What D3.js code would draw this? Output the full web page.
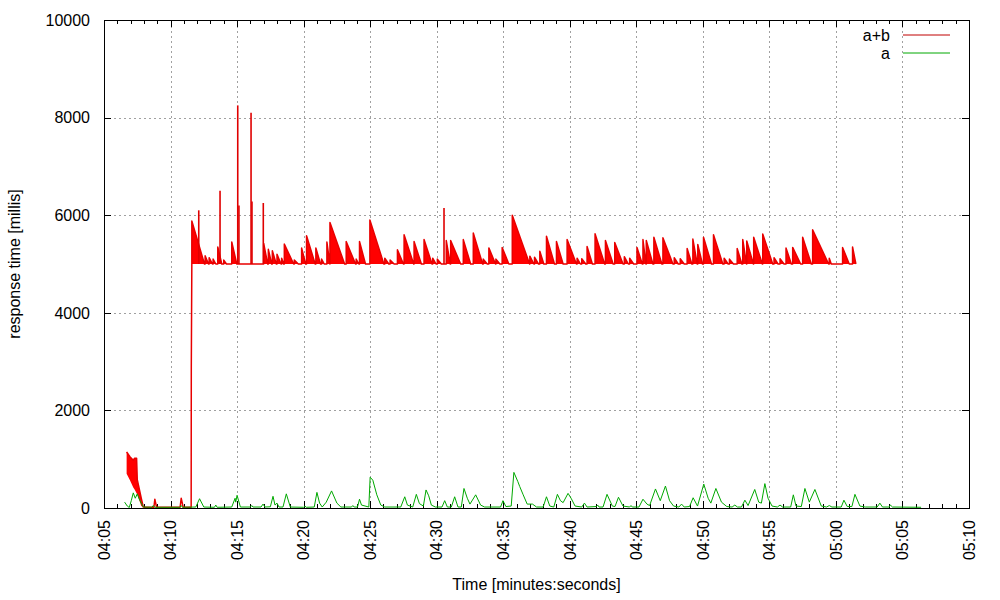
<!DOCTYPE html>
<html>
<head>
<meta charset="utf-8">
<script src="https://cdn.jsdelivr.net/npm/d3@7"></script>
<style>
  body { margin: 0; background: #fff; }
  svg { font-family: "Liberation Sans", Arial, sans-serif; }
</style>
</head>
<body>
<div id="chart"></div>
<script>
// time is in seconds (04:05 = 245)
var xTicks = [245, 250, 255, 260, 265, 270, 275, 280, 285, 290, 295, 300, 305, 310];
var xTickLabels = ["04:05", "04:10", "04:15", "04:20", "04:25", "04:30", "04:35",
                   "04:40", "04:45", "04:50", "04:55", "05:00", "05:05", "05:10"];
var yTicks = [0, 2000, 4000, 6000, 8000, 10000];
var yTickLabels = ["0", "2000", "4000", "6000", "8000", "10000"];

var seriesNames = ["a+b", "a"];
var seriesColors = ["#ff0000", "#00a800"];

// a+b : start-up burst, [time, top, bottom]
var redEarly = [
  [246.7, 1150, 700], [246.95, 1050, 570], [247.2, 980, 420], [247.3, 1020, 380],
  [247.45, 1020, 300], [247.5, 580, 280], [247.8, 200, 40], [247.95, 20, 20]
];
// a+b : low section before the jump, [time, value]
var redLow = [
  [248.1, 15], [248.75, 15], [248.82, 180], [248.95, 15], [250.72, 15],
  [250.8, 200], [250.95, 15], [251.55, 15], [251.56, 2900]
];
var redBase = 5000;
// a+b : saw teeth above the 5000 floor, [start, peak, duration]
var redTeeth = [
  [251.6, 5880, 0.95], [252.6, 5170, 0.25], [252.9, 5130, 0.25], [253.2, 5100, 0.2],
  [253.55, 5350, 0.3], [254.0, 5080, 0.2], [254.6, 5450, 0.38],
  [257.0, 5420, 0.3], [257.35, 5300, 0.25], [257.65, 5270, 0.3], [258.0, 5200, 0.3],
  [258.35, 5120, 0.15], [258.55, 5410, 0.7], [259.3, 5080, 0.3], [259.85, 5330, 0.3],
  [260.22, 5580, 0.65], [260.92, 5330, 0.35], [261.35, 5100, 0.2], [261.75, 5450, 0.22],
  [261.98, 5850, 1.1], [263.2, 5460, 0.7], [263.95, 5100, 0.2], [264.2, 5460, 0.45],
  [264.98, 5900, 1.05], [266.1, 5120, 0.3], [266.5, 5080, 0.3], [267.05, 5290, 0.45],
  [267.55, 5600, 0.72], [268.3, 5460, 0.55], [269.05, 5500, 0.6], [269.7, 5120, 0.25],
  [270.05, 5100, 0.3], [270.72, 5480, 0.3], [271.05, 5480, 0.75], [272.0, 5500, 0.55],
  [272.75, 5635, 0.7], [273.5, 5100, 0.3], [273.92, 5330, 0.5], [274.45, 5100, 0.3],
  [274.92, 5340, 0.5], [275.68, 6000, 1.3], [277.0, 5160, 0.3], [277.35, 5140, 0.3],
  [277.75, 5260, 0.3], [278.25, 5570, 0.6], [279.0, 5460, 0.5], [279.8, 5500, 0.7],
  [280.55, 5120, 0.25], [280.9, 5110, 0.3], [281.3, 5360, 0.4], [281.9, 5620, 0.72],
  [282.68, 5480, 0.58], [283.38, 5440, 0.62], [284.1, 5150, 0.3], [284.5, 5120, 0.3],
  [285.05, 5340, 0.4], [285.5, 5500, 0.22], [285.75, 5480, 0.5], [286.32, 5550, 0.6],
  [287.0, 5540, 0.75], [287.85, 5130, 0.3], [288.3, 5110, 0.3], [288.82, 5320, 0.35],
  [289.25, 5510, 0.33], [289.62, 5400, 0.35], [290.05, 5550, 0.6], [290.8, 5600, 0.7],
  [291.6, 5120, 0.3], [292.0, 5100, 0.3], [292.58, 5320, 0.35], [293.0, 5500, 0.28],
  [293.3, 5470, 0.5], [293.82, 5550, 0.65], [294.5, 5615, 0.75], [295.35, 5130, 0.3],
  [295.8, 5110, 0.3], [296.25, 5330, 0.4], [296.75, 5340, 0.6], [297.5, 5550, 0.65],
  [298.25, 5700, 1.2], [299.5, 5120, 0.15], [300.5, 5340, 0.5], [301.25, 5350, 0.25]
];
// a+b : single thin spikes, [time, peak]
var redSpikes = [
  [252.12, 6100], [253.72, 6500], [255.05, 8250], [255.14, 6200],
  [256.05, 8100], [256.12, 6280], [256.97, 6250], [270.55, 6150]
];

// a : [time, value]
var greenData = [
  [246.55, 120], [246.75, 40], [246.9, 10], [247.05, 150], [247.2, 310], [247.35, 200],
  [247.5, 290], [247.65, 180], [247.95, 20], [248.6, 15], [248.7, 50], [248.8, 15],
  [250.7, 15], [250.8, 50], [250.9, 15], [251.9, 20], [252.18, 190], [252.5, 20],
  [253.3, 15], [253.4, 60], [253.5, 15], [254.6, 20], [254.85, 200], [254.9, 120],
  [255.0, 260], [255.25, 20], [256.0, 20], [256.1, 50], [256.2, 20], [256.8, 20],
  [256.95, 80], [257.1, 20], [257.5, 25], [257.7, 240], [257.85, 60], [258.0, 100],
  [258.15, 20], [258.45, 20], [258.7, 290], [259.0, 20], [260.0, 15], [260.1, 40],
  [260.2, 15], [260.8, 20], [261.0, 320], [261.2, 100], [261.4, 20], [261.7, 120],
  [262.1, 350], [262.5, 100], [262.8, 20], [263.6, 20], [263.7, 50], [263.8, 20],
  [264.05, 20], [264.2, 180], [264.35, 60], [264.9, 20], [265.0, 630], [265.2, 570],
  [265.5, 270], [265.8, 60], [266.1, 20], [267.3, 20], [267.6, 230], [267.8, 60],
  [268.2, 20], [268.47, 280], [268.7, 90], [269.0, 40], [269.2, 370], [269.4, 250],
  [269.6, 60], [269.9, 20], [270.4, 20], [270.6, 150], [270.8, 20], [271.1, 20],
  [271.35, 230], [271.6, 20], [271.85, 20], [272.05, 400], [272.3, 200], [272.5, 80],
  [272.93, 270], [273.3, 60], [273.6, 20], [274.8, 20], [274.98, 150], [275.2, 30],
  [275.6, 40], [275.8, 730], [276.1, 540], [276.24, 440], [276.5, 270], [276.8, 80],
  [277.2, 80], [277.5, 20], [278.0, 20], [278.25, 230], [278.5, 40], [278.8, 20],
  [279.07, 280], [279.3, 150], [279.5, 110], [279.87, 300], [280.1, 200], [280.4, 40],
  [280.9, 20], [281.1, 100], [281.3, 20], [282.0, 30], [282.1, 60], [282.2, 20],
  [282.5, 20], [282.8, 280], [283.2, 40], [283.4, 30], [283.66, 220], [284.0, 40],
  [284.5, 20], [284.6, 50], [284.7, 20], [285.2, 20], [285.5, 180], [285.8, 80],
  [286.0, 50], [286.44, 390], [286.8, 150], [287.19, 450], [287.5, 150], [287.8, 40],
  [288.2, 20], [288.4, 80], [288.6, 20], [289.0, 30], [289.27, 210], [289.6, 40],
  [290.07, 490], [290.4, 200], [290.6, 100], [290.98, 400], [291.4, 120], [291.8, 30],
  [292.2, 20], [292.4, 60], [292.6, 20], [292.9, 20], [293.16, 160], [293.4, 50],
  [293.9, 380], [294.2, 120], [294.4, 100], [294.66, 500], [294.9, 200], [295.2, 40],
  [295.6, 20], [295.8, 60], [296.0, 20], [296.6, 20], [296.8, 270], [297.0, 40],
  [297.4, 30], [297.67, 400], [298.0, 120], [298.42, 380], [298.9, 40], [299.3, 20],
  [299.5, 50], [299.7, 20], [300.4, 20], [300.6, 160], [300.85, 30], [301.2, 30],
  [301.43, 280], [301.8, 40], [302.2, 20], [303.1, 20], [303.3, 100], [303.5, 20],
  [304.0, 20], [304.1, 60], [304.25, 20], [306.4, 15]
];

var width = 1000, height = 600;
var margin = {left: 104, right: 31, top: 20, bottom: 92};

var svg = d3.select("#chart").append("svg")
    .attr("width", width)
    .attr("height", height);

var x = d3.scaleLinear()
    .domain([xTicks[0], xTicks[xTicks.length - 1]])
    .range([margin.left, width - margin.right]);

var y = d3.scaleLinear()
    .domain([yTicks[0], yTicks[yTicks.length - 1]])
    .range([height - margin.bottom, margin.top]);

var x0 = x.range()[0], x1 = x.range()[1], y0 = y.range()[0], y1 = y.range()[1];

// grid
var grid = svg.append("g")
    .attr("stroke", "#a0a0a0")
    .attr("stroke-dasharray", "2,3")
    .attr("shape-rendering", "crispEdges");

grid.selectAll(".gx")
    .data(xTicks.slice(1, -1))
  .enter().append("line")
    .attr("x1", function(d) { return Math.round(x(d)) + 0.5; })
    .attr("x2", function(d) { return Math.round(x(d)) + 0.5; })
    .attr("y1", y0).attr("y2", y1);

grid.selectAll(".gy")
    .data(yTicks.slice(1, -1))
  .enter().append("line")
    .attr("y1", function(d) { return Math.round(y(d)) + 0.5; })
    .attr("y2", function(d) { return Math.round(y(d)) + 0.5; })
    .attr("x1", x0).attr("x2", x1);

// ticks, mirrored on all sides
var minorTicks = d3.range(xTicks[0], xTicks[xTicks.length - 1] + 1, 1)
    .filter(function(d) { return xTicks.indexOf(d) < 0; });

function tickAxis(axis, vals, size) {
  return axis.tickValues(vals).tickSize(size).tickFormat("");
}

var axes = [
  [d3.axisBottom(x), y0, xTicks, -7], [d3.axisBottom(x), y0, minorTicks, -4],
  [d3.axisTop(x), y1, xTicks, -7], [d3.axisTop(x), y1, minorTicks, -4]
];
axes.forEach(function(a) {
  svg.append("g")
      .attr("transform", "translate(0," + a[1] + ")")
      .call(tickAxis(a[0], a[2], a[3]))
      .call(function(g) { g.select(".domain").remove(); });
});
svg.append("g")
    .attr("transform", "translate(" + x0 + ",0)")
    .call(tickAxis(d3.axisLeft(y), yTicks, -7))
    .call(function(g) { g.select(".domain").remove(); });
svg.append("g")
    .attr("transform", "translate(" + x1 + ",0)")
    .call(tickAxis(d3.axisRight(y), yTicks, -7))
    .call(function(g) { g.select(".domain").remove(); });
svg.selectAll(".tick line").attr("stroke", "#000").attr("shape-rendering", "crispEdges");

// tick labels
svg.selectAll(".xlab")
    .data(xTicks)
  .enter().append("text")
    .attr("transform", function(d) { return "translate(" + x(d) + "," + (y0 + 12) + ") rotate(-90)"; })
    .attr("text-anchor", "end")
    .attr("dy", "0.36em")
    .attr("font-size", 16)
    .attr("fill", "#000")
    .text(function(d, i) { return xTickLabels[i]; });

svg.selectAll(".ylab")
    .data(yTicks)
  .enter().append("text")
    .attr("x", x0 - 14)
    .attr("y", function(d) { return y(d); })
    .attr("dy", "0.36em")
    .attr("text-anchor", "end")
    .attr("font-size", 16)
    .attr("fill", "#000")
    .text(function(d, i) { return yTickLabels[i]; });

// axis titles
svg.append("text")
    .attr("x", (x0 + x1) / 2)
    .attr("y", 590)
    .attr("text-anchor", "middle")
    .attr("font-size", 16)
    .text("Time [minutes:seconds]");

svg.append("text")
    .attr("transform", "translate(20," + ((y0 + y1) / 2) + ") rotate(-90)")
    .attr("text-anchor", "middle")
    .attr("font-size", 16)
    .text("response time [millis]");

// a+b series
var red = svg.append("g");

red.append("path")
    .datum(redEarly)
    .attr("fill", seriesColors[0])
    .attr("d", d3.area()
      .x(function(d) { return x(d[0]); })
      .y0(function(d) { return y(d[2]); })
      .y1(function(d) { return y(d[1]); }));

red.selectAll(".tooth")
    .data(redTeeth)
  .enter().append("path")
    .attr("fill", seriesColors[0])
    .attr("d", function(d) {
      return "M" + x(d[0]) + "," + y(redBase) +
             "L" + x(d[0]) + "," + y(d[1]) +
             "L" + x(d[0] + d[2]) + "," + y(redBase) + "Z";
    });

var redLine = redEarly.map(function(d) { return [d[0], d[1]]; }).concat(redLow);
redTeeth.forEach(function(d) {
  redLine.push([d[0], redBase], [d[0], d[1]], [d[0] + d[2], redBase]);
});

red.append("path")
    .datum(redLine)
    .attr("fill", "none")
    .attr("stroke", "#e80000")
    .attr("stroke-width", 1.5)
    .attr("stroke-linejoin", "round")
    .attr("d", d3.line()
      .x(function(d) { return x(d[0]); })
      .y(function(d) { return y(d[1]); }));

red.selectAll(".spike")
    .data(redSpikes)
  .enter().append("line")
    .attr("x1", function(d) { return x(d[0]); })
    .attr("x2", function(d) { return x(d[0]); })
    .attr("y1", y(redBase))
    .attr("y2", function(d) { return y(d[1]); })
    .attr("stroke", "#e00000")
    .attr("stroke-width", 1.6);

// a series
svg.append("path")
    .datum(greenData)
    .attr("fill", "none")
    .attr("stroke", seriesColors[1])
    .attr("stroke-width", 1)
    .attr("d", d3.line()
      .x(function(d) { return x(d[0]); })
      .y(function(d) { return y(d[1]); }));

// border
svg.append("rect")
    .attr("x", x0 + 0.5).attr("y", y1 + 0.5)
    .attr("width", x1 - x0).attr("height", y0 - y1)
    .attr("fill", "none")
    .attr("stroke", "#000")
    .attr("shape-rendering", "crispEdges");

// legend
var legend = svg.selectAll(".legend")
    .data(seriesNames)
  .enter().append("g")
    .attr("transform", function(d, i) { return "translate(0," + (35 + i * 18) + ")"; });

legend.append("text")
    .attr("x", 890)
    .attr("dy", "0.36em")
    .attr("text-anchor", "end")
    .attr("font-size", 16)
    .text(function(d) { return d; });

legend.append("line")
    .attr("x1", 903).attr("x2", 950)
    .attr("stroke", function(d, i) { return i === 0 ? "#c00000" : seriesColors[1]; })
    .attr("stroke-width", 1);
</script>
</body>
</html>
